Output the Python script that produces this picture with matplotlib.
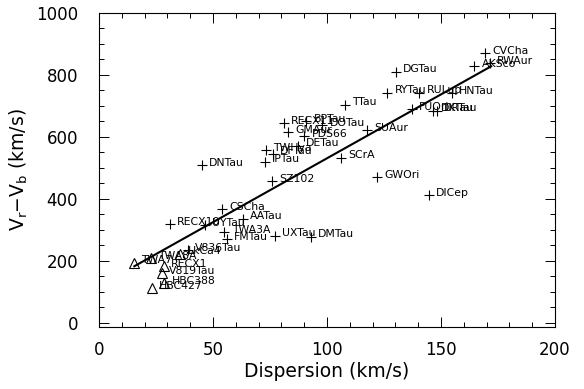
import numpy as np
import matplotlib.pyplot as plt
from matplotlib.ticker import MultipleLocator

# CTTS (plus signs)
ctts_names = ["CVCha", "RWAur", "AKSco", "DGTau", "TTau", "RYTau", "RULup", "HNTau",
              "FUOri", "DKTau", "DRTau", "SUAur", "SCrA", "GWOri", "DICep", "DNTau",
              "SZ102", "CSCha", "AATau", "RECX10", "UYTau", "TWA3A", "FMTau", "UXTau",
              "DMTau", "V836Tau", "RECX11", "BPTau", "DOTau", "GMAur", "PDS66", "DETau",
              "TWHya", "DFTau", "IPTau"]
ctts_x = [169.3, 171.5, 164.6, 130.3, 108, 126.4, 140.5, 154.7,
          137.1, 146.6, 148.2, 117.5, 106, 122, 144.8, 45,
          76, 54, 63, 31, 46.5, 55, 56, 77,
          93, 39, 81, 91, 98, 83, 90, 87.5,
          73.4, 76.3, 72.6]
ctts_y = [870, 838, 829, 811, 704, 743, 743, 741,
          689, 685, 685, 622, 533, 470, 413, 510,
          458, 368, 336, 318, 315, 292, 271, 282,
          278, 234, 645, 652, 638, 616, 602, 572,
          558, 546, 520]

# WTTS (triangles)
wtts_names = ["TWA7", "TWA8A", "LkCa4", "RECX1", "V819Tau", "HBC388", "HBC427"]
wtts_x = [15.2, 22.9, 35.7, 28.4, 27.7, 28.7, 23.3]
wtts_y = [195, 209, 223, 184, 161, 129, 112]

# linear fit
fit_x = [15.5, 172]
fit_y = [183, 828]

plt.rcParams['font.family'] = ['DejaVu Sans']
fig = plt.figure(figsize=(5.84, 3.89), dpi=100)
ax = fig.add_axes([0.1695, 0.1594, 0.7808, 0.8072])

ax.plot(ctts_x, ctts_y, '+', color='black', ms=6.5, mew=0.8)
ax.plot(wtts_x, wtts_y, '^', mfc='none', mec='black', ms=6.5, mew=0.8)
ax.plot(fit_x, fit_y, '-', color='black', lw=1.5)

for n, x, y in zip(ctts_names + wtts_names, ctts_x + wtts_x, ctts_y + wtts_y):
    ax.annotate(n, (x, y), xytext=(5.2, 1.7), textcoords='offset points',
                fontsize=7.8, va='center', ha='left')

ax.set_xlim(0, 200)
ax.set_ylim(-13, 1000)
ax.xaxis.set_major_locator(MultipleLocator(50))
ax.xaxis.set_minor_locator(MultipleLocator(10))
ax.yaxis.set_major_locator(MultipleLocator(200))
ax.yaxis.set_minor_locator(MultipleLocator(50))
ax.tick_params(which='both', direction='in', top=True, right=True, labelsize=12, width=0.7)
ax.tick_params(which='major', length=7)
ax.tick_params(which='minor', length=3.5)
ax.tick_params(axis='y', pad=15)
ax.tick_params(axis='x', pad=10)
for s in ax.spines.values():
    s.set_linewidth(0.8)
ax.set_xlabel("Dispersion (km/s)", fontsize=13.5, labelpad=2)
ax.set_ylabel(r"V$_\mathrm{r}$$-$V$_\mathrm{b}$ (km/s)", fontsize=13.5, labelpad=4)

fig.savefig("out.png", dpi=100)
